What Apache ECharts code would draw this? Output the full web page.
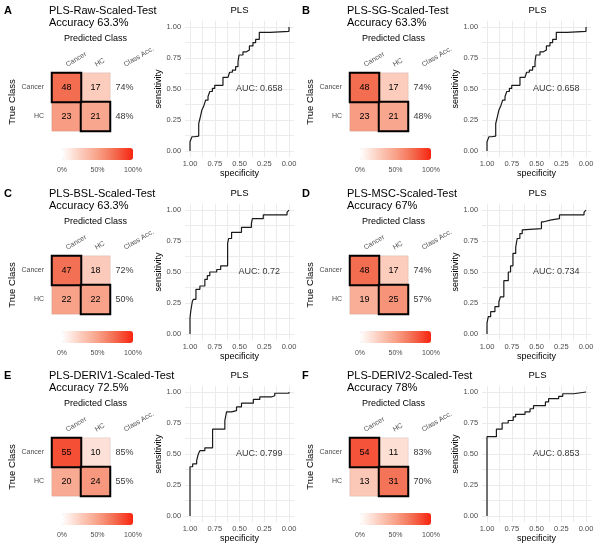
<!DOCTYPE html>
<html><head><meta charset="utf-8">
<script src="https://cdn.jsdelivr.net/npm/echarts@6/dist/echarts.min.js"></script>
<style>html,body{margin:0;padding:0;background:#fff}#c{width:600px;height:549px}</style>
</head><body><div id="c"></div>
<script>
// ---------- data ----------
const letters = ['A','B','C','D','E','F'];
const titles = ['PLS-Raw-Scaled-Test','PLS-SG-Scaled-Test','PLS-BSL-Scaled-Test','PLS-MSC-Scaled-Test','PLS-DERIV1-Scaled-Test','PLS-DERIV2-Scaled-Test'];
const accuracies = ['63.3%','63.3%','63.3%','67%','72.5%','78%'];
const predClasses = ['Cancer','HC'];
const trueClasses = ['Cancer','HC'];
const classAccHeader = 'Class Acc.';
// confusion matrices: [Cancer->Cancer, Cancer->HC, HC->Cancer, HC->HC]
const cmA = [48,17,23,21];
const cmB = [48,17,23,21];
const cmC = [47,18,22,22];
const cmD = [48,17,19,25];
const cmE = [55,10,20,24];
const cmF = [54,11,13,31];
const classAccA = ['74%','48%'];
const classAccB = ['74%','48%'];
const classAccC = ['72%','50%'];
const classAccD = ['74%','57%'];
const classAccE = ['85%','55%'];
const classAccF = ['83%','70%'];
const aucLabels = ['0.658','0.658','0.72','0.734','0.799','0.853'];
const colorbarTicks = ['0%','50%','100%'];
const rocTicks = ['0.00','0.25','0.50','0.75','1.00'];
const rocTickValues = [0,0.25,0.5,0.75,1];
const rocGridValues = [0,0.125,0.25,0.375,0.5,0.625,0.75,0.875,1];
// ROC curves (specificity, sensitivity) at tops of each vertical step
const rocSpecA = [1,1.00,0.98,0.953,0.912,0.90,0.88,0.862,0.842,0.818,0.80,0.774,0.75,0.667,0.616,0.60,0.572,0.539,0.515,0.505,0.465,0.43,0.40,0.364,0.337,0.30,0.19,0.0];
const rocSensA = [0,0.075,0.115,0.12,0.22,0.26,0.33,0.36,0.41,0.44,0.48,0.505,0.53,0.594,0.61,0.635,0.653,0.68,0.72,0.774,0.80,0.815,0.847,0.874,0.90,0.957,0.965,1.0];
const rocSpecB = rocSpecA.slice();
const rocSensB = rocSensA.slice();
const rocSpecC = [1,1.0,0.993,0.977,0.966,0.94,0.90,0.85,0.825,0.80,0.73,0.69,0.62,0.61,0.58,0.48,0.38,0.37,0.26,0.02,0.0];
const rocSensC = [0,0.128,0.18,0.26,0.28,0.36,0.387,0.44,0.47,0.50,0.52,0.55,0.73,0.77,0.82,0.86,0.89,0.93,0.96,0.98,1.0];
const rocSpecD = [1,1.0,0.987,0.963,0.92,0.88,0.864,0.83,0.785,0.762,0.738,0.71,0.695,0.668,0.644,0.628,0.45,0.426,0.349,0.268,0.02,0.0];
const rocSensD = [0,0.087,0.14,0.18,0.22,0.26,0.30,0.43,0.50,0.55,0.65,0.70,0.77,0.81,0.84,0.85,0.905,0.92,0.93,0.96,0.98,1.0];
const rocSpecE = [1,1.0,0.973,0.933,0.916,0.90,0.85,0.772,0.648,0.631,0.58,0.53,0.48,0.36,0.295,0.178,0.144,0.0];
const rocSensE = [0,0.397,0.42,0.446,0.50,0.527,0.55,0.70,0.77,0.84,0.85,0.88,0.91,0.94,0.96,0.97,0.99,1.0];
const rocSpecF = [1,1.0,0.905,0.847,0.786,0.735,0.711,0.616,0.565,0.53,0.41,0.378,0.276,0.235,0.123,0.0];
const rocSensF = [0,0.64,0.70,0.75,0.77,0.80,0.82,0.84,0.865,0.89,0.92,0.946,0.965,0.986,1.0,1.0];

const cms = [cmA,cmB,cmC,cmD,cmE,cmF];
const classAccs = [classAccA,classAccB,classAccC,classAccD,classAccE,classAccF];
const rocSpecs = [rocSpecA,rocSpecB,rocSpecC,rocSpecD,rocSpecE,rocSpecF];
const rocSenss = [rocSensA,rocSensB,rocSensC,rocSensD,rocSensE,rocSensF];

// ---------- layout / style ----------
const FONT = 'Liberation Sans, Arial, Helvetica, sans-serif';
const GREY = '#4D4D4D';
const fillStops = ['#FFFFFF','#FCCFC0','#F8A289','#F36A4E','#F92410'];
const colOff = 298;
const rowOffs = [0, 183, 365];
const EXP = 0.05; // ggplot-style axis expansion

const grid = [], xAxis = [], yAxis = [], series = [], visualMap = [], graphic = [];

letters.forEach((L, i) => {
  const ox = (i % 2) * colOff;
  const oy = rowOffs[Math.floor(i / 2)];
  const cm = cms[i];

  // titles
  graphic.push({type:'text', x:4+ox, y:5+oy, style:{text:L, fontSize:11, fontWeight:'bold', fontFamily:FONT, fill:'#000', verticalAlign:'top'}});
  graphic.push({type:'text', x:49+ox, y:5+oy, style:{text:titles[i] + '\nAccuracy ' + accuracies[i], fontSize:11, lineHeight:12, fontFamily:FONT, fill:'#000', verticalAlign:'top'}});
  graphic.push({type:'text', x:239.5+ox, y:5.5+oy, style:{text:'PLS', fontSize:9.5, fontFamily:FONT, fill:'#000', align:'center', verticalAlign:'top'}});

  // ---- heatmap grid ----
  const gH = grid.length;
  grid.push({left:52+ox, top:73+oy, width:87, height:58, outerBoundsMode:'none'});
  xAxis.push({type:'category', gridIndex:gH, position:'top', data:[...predClasses, classAccHeader],
    axisLine:{show:false}, axisTick:{show:false}, splitLine:{show:false},
    axisLabel:{rotate:-30, interval:0, fontSize:7, color:GREY, margin:8, fontFamily:FONT},
    name:'Predicted Class', nameLocation:'middle', nameGap:30,
    nameTextStyle:{fontSize:9, color:'#000', fontFamily:FONT}});
  yAxis.push({type:'category', gridIndex:gH, data:trueClasses, inverse:true,
    axisLine:{show:false}, axisTick:{show:false}, splitLine:{show:false},
    axisLabel:{fontSize:7, color:GREY, margin:8, fontFamily:FONT},
    name:'True Class', nameLocation:'middle', nameGap:34, nameRotate:90,
    nameTextStyle:{fontSize:9.5, color:'#000', fontFamily:FONT}});
  const r0 = cm[0] + cm[1], r1 = cm[2] + cm[3];
  const hmIndex = series.length;
  series.push({type:'heatmap', xAxisIndex:gH, yAxisIndex:gH,
    data:[[0,0,cm[0]/r0,cm[0]],[1,0,cm[1]/r0,cm[1]],[0,1,cm[2]/r1,cm[2]],[1,1,cm[3]/r1,cm[3]]],
    itemStyle:{borderColor:'rgba(0,0,0,0.08)', borderWidth:1},
    label:{show:true, formatter:p => String(p.value[3]), fontSize:9, color:'#000', fontFamily:FONT},
    emphasis:{disabled:true}});
  series.push({type:'heatmap', xAxisIndex:gH, yAxisIndex:gH,
    data:[[0,0,1],[1,1,1]],
    itemStyle:{color:'rgba(0,0,0,0)', borderColor:'#000', borderWidth:2},
    label:{show:false}, emphasis:{disabled:true}, z:5});
  series.push({type:'scatter', xAxisIndex:gH, yAxisIndex:gH,
    data:[[2,0,classAccs[i][0]],[2,1,classAccs[i][1]]],
    symbolSize:1, itemStyle:{color:'rgba(0,0,0,0)'},
    label:{show:true, position:'inside', formatter:p => p.value[2], fontSize:9, color:'#000', fontFamily:FONT},
    emphasis:{disabled:true}, silent:true});
  visualMap.push({type:'continuous', min:0, max:1, dimension:2, seriesIndex:hmIndex,
    orient:'horizontal', left:62+ox, top:148+oy, itemWidth:12, itemHeight:71,
    calculable:false, hoverLink:false, padding:0, showLabel:false,
    inRange:{color:fillStops}});

  // ---- colorbar label axis ----
  const gC = grid.length;
  grid.push({left:62+ox, top:148+oy, width:71, height:12, outerBoundsMode:'none'});
  xAxis.push({type:'value', gridIndex:gC, min:0, max:1, interval:0.5,
    axisLine:{show:false}, axisTick:{show:false}, splitLine:{show:false},
    axisLabel:{fontSize:7, color:GREY, margin:7, fontFamily:FONT, formatter:v => colorbarTicks[Math.round(v*2)]}});
  yAxis.push({type:'value', gridIndex:gC, show:false, min:0, max:1});
  series.push({type:'line', xAxisIndex:gC, yAxisIndex:gC, data:[], silent:true});

  // ---- ROC grid (data 0..1 maps to 99 x 124 px, plus 5% expansion) ----
  const gR = grid.length;
  const px0 = 190 + ox + (i % 2 ? -1 : 0), pw = 99;
  const py0 = 27 + oy, ph = 124;
  grid.push({left:px0 - pw*EXP, top:py0 - ph*EXP, width:pw*(1+2*EXP), height:ph*(1+2*EXP), outerBoundsMode:'none'});
  const splitStyle = {show:true, lineStyle:{color:'#EBEBEB', width:1}};
  const labelFmt = v => rocTicks[rocTickValues.indexOf(Math.round(v*4)/4)];
  xAxis.push({type:'value', gridIndex:gR, min:-EXP, max:1+EXP, inverse:true,
    axisLine:{show:false}, axisTick:{show:false, customValues:rocGridValues},
    splitLine:splitStyle,
    axisLabel:{customValues:rocTickValues, fontSize:7.5, color:GREY, margin:3, fontFamily:FONT, formatter:labelFmt},
    name:'specificity', nameLocation:'middle', nameGap:11,
    nameTextStyle:{fontSize:9, color:'#000', fontFamily:FONT}});
  yAxis.push({type:'value', gridIndex:gR, min:-EXP, max:1+EXP,
    axisLine:{show:false}, axisTick:{show:false, customValues:rocGridValues},
    splitLine:splitStyle,
    axisLabel:{customValues:rocTickValues, fontSize:7.5, color:GREY, margin:4, fontFamily:FONT, formatter:labelFmt},
    name:'sensitivity', nameLocation:'middle', nameGap:22, nameRotate:90,
    nameTextStyle:{fontSize:9, color:'#000', fontFamily:FONT}});
  series.push({type:'line', xAxisIndex:gR, yAxisIndex:gR, step:'end',
    data:rocSpecs[i].map((s, k) => [s, rocSenss[i][k]]),
    showSymbol:false, symbol:'none', lineStyle:{color:'#1A1A1A', width:1.2}, silent:true, z:3});
  series.push({type:'scatter', xAxisIndex:gR, yAxisIndex:gR, data:[[0.3,0.5]],
    symbolSize:1, itemStyle:{color:'rgba(0,0,0,0)'}, silent:true,
    label:{show:true, position:'inside', formatter:'AUC: ' + aucLabels[i], fontSize:9, color:'#000', fontFamily:FONT}});
});

const chart = echarts.init(document.getElementById('c'), null, {renderer:'canvas'});
chart.setOption({
  animation:false,
  backgroundColor:'#FFFFFF',
  textStyle:{fontFamily:FONT},
  grid, xAxis, yAxis, series, visualMap, graphic
});
</script>
</body></html>
